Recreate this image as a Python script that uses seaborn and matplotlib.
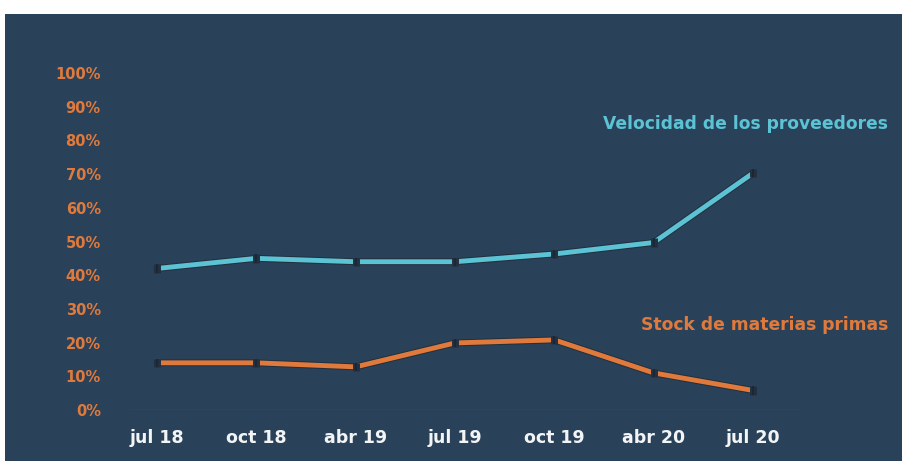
import pandas as pd
import matplotlib.pyplot as plt
import matplotlib.patheffects as pe
from matplotlib.patches import Rectangle
import seaborn as sns

# Datos
periodos = ['jul 18', 'oct 18', 'abr 19', 'jul 19', 'oct 19', 'abr 20', 'jul 20']
velocidad_proveedores = [42.0, 45.0, 44.0, 44.0, 46.3, 49.7, 70.3]
stock_materias = [14.0, 14.0, 12.8, 19.9, 20.8, 11.0, 5.8]
y_ticks = [0, 10, 20, 30, 40, 50, 60, 70, 80, 90, 100]

FONDO = '#2a4259'
CIAN = '#5cc3d5'
NARANJA = '#e07a3c'

sns.set_theme(style="white")
plt.rcParams['font.family'] = ['DejaVu Sans']

df = pd.DataFrame({
    'periodo': periodos * 2,
    'valor': velocidad_proveedores + stock_materias,
    'serie': ['Velocidad de los proveedores'] * len(periodos)
             + ['Stock de materias primas'] * len(periodos),
})

fig = plt.figure(figsize=(9.02, 4.61), dpi=100, facecolor='white')
# panel oscuro (deja una franja blanca arriba y a la izquierda)
fig.patches.append(Rectangle((5 / 902, 0), 1, 1 - 14 / 461, transform=fig.transFigure,
                             facecolor=FONDO, edgecolor='none', zorder=-10))

ax = fig.add_axes([130 / 902, 51 / 461, 670 / 902, 337 / 461])
ax.set_facecolor('none')
ax.set_zorder(2)

sns.lineplot(
    data=df, x='periodo', y='valor', hue='serie', sort=False,
    palette={'Velocidad de los proveedores': CIAN, 'Stock de materias primas': NARANJA},
    linewidth=3.5, marker='|', markersize=6, markeredgewidth=1.2,
    markeredgecolor='#1b2633', legend=False, ax=ax,
)
for ln in ax.get_lines():
    ln.set_path_effects([pe.Stroke(linewidth=5, foreground='#22303f'), pe.Normal()])
    ln.set_clip_on(False)

ax.set_xlim(-0.272, 6.473)
ax.set_ylim(0, 100)
ax.set_yticks(y_ticks)
ax.set_yticklabels([f'{v}%' for v in y_ticks])
ax.axhline(0, color='#3a536b', linewidth=1, zorder=0)

ax.tick_params(axis='y', length=0, pad=21, labelcolor=NARANJA, labelsize=10.5)
ax.tick_params(axis='x', length=0, pad=14, labelcolor='#f2f4f6', labelsize=12.5)
for lbl in ax.get_yticklabels():
    lbl.set_fontweight('bold')
for lbl in ax.get_xticklabels():
    lbl.set_fontweight('bold')

ax.set_xlabel('')
ax.set_ylabel('')
for s in ax.spines.values():
    s.set_visible(False)
ax.grid(False)

fig.text(888 / 902, 1 - 124 / 461, 'Velocidad de los proveedores', color=CIAN,
         fontsize=12.3, fontweight='bold', ha='right', va='center', zorder=3)
fig.text(888 / 902, 1 - 325 / 461, 'Stock de materias primas', color=NARANJA,
         fontsize=12.3, fontweight='bold', ha='right', va='center', zorder=3)

fig.savefig('out.png', dpi=100, facecolor='white')
